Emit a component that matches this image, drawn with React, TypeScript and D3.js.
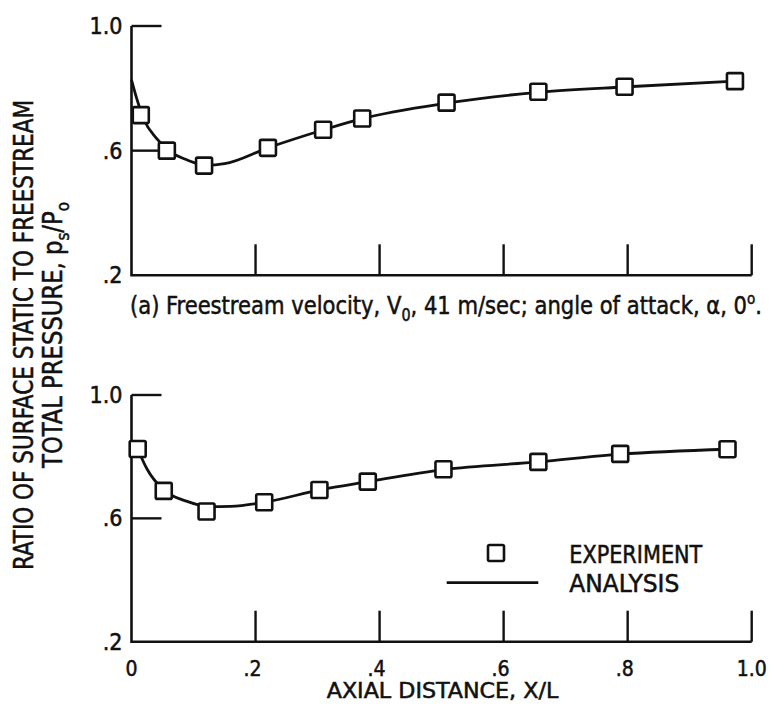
import React from "react";
import * as d3 from "d3";

const xTicks = [0, 0.2, 0.4, 0.6, 0.8, 1.0];
const xTickLabels = ["0", ".2", ".4", ".6", ".8", "1.0"];
const yTicks = [0.2, 0.6, 1.0];
const yTickLabels = [".2", ".6", "1.0"];

// Panel (a): experiment and analysis
const topExpX = [0.015, 0.057, 0.117, 0.22, 0.309, 0.372, 0.508, 0.656, 0.795, 0.973];
const topExpY = [0.714, 0.6, 0.552, 0.609, 0.667, 0.703, 0.754, 0.789, 0.805, 0.823];
const topAnaX = [0, 0.008, 0.02, 0.04, 0.06, 0.09, 0.12, 0.15, 0.22, 0.31, 0.37, 0.51, 0.66, 0.8, 0.973];
const topAnaY = [0.827, 0.77, 0.7, 0.64, 0.6, 0.57, 0.553, 0.558, 0.609, 0.667, 0.702, 0.753, 0.788, 0.805, 0.823];

// Panel (b)
const botExpX = [0.01, 0.052, 0.121, 0.214, 0.303, 0.381, 0.503, 0.656, 0.788, 0.961];
const botExpY = [0.825, 0.689, 0.622, 0.652, 0.692, 0.719, 0.759, 0.783, 0.809, 0.824];
const botAnaX = [0.01, 0.025, 0.052, 0.09, 0.125, 0.16, 0.214, 0.303, 0.381, 0.503, 0.656, 0.788, 0.961];
const botAnaY = [0.825, 0.76, 0.692, 0.655, 0.638, 0.639, 0.652, 0.692, 0.719, 0.758, 0.783, 0.808, 0.824];

const FONT = "'DejaVu Sans Condensed', 'Liberation Sans Narrow', 'DejaVu Sans', sans-serif";
const INK = "#111";

const x = d3.scaleLinear().domain([0, 1]).range([131.5, 751.7]);

function Panel({ y0, y1, expX, expY, anaX, anaY }: any) {
  const y = d3.scaleLinear().domain([0.2, 1.0]).range([y0, y1]);
  const pts = anaX.map((v: number, i: number) => [v, anaY[i]] as [number, number]);
  const line = d3
    .line<[number, number]>()
    .x((d) => x(d[0]))
    .y((d) => y(d[1]))
    .curve(d3.curveMonotoneX);
  const xl = x(0);
  return (
    <g>
      <path
        d={`M${xl},${y(1.0)} L${xl},${y(0.2)} L${x(1)},${y(0.2)}`}
        fill="none"
        stroke={INK}
        strokeWidth={2.6}
      />
      {yTicks.filter((t) => t > 0.2).map((t) => (
        <line key={"yt" + t} x1={xl} x2={xl + 30} y1={y(t)} y2={y(t)} stroke={INK} strokeWidth={2.4} />
      ))}
      {xTicks.filter((t) => t > 0).map((t) => (
        <line key={"xt" + t} x1={x(t)} x2={x(t)} y1={y(0.2)} y2={y(0.2) - 31} stroke={INK} strokeWidth={2.4} />
      ))}
      {yTicks.map((t, i) => (
        <text
          key={"yl" + t}
          x={xl - 9}
          y={y(t) + 8}
          textAnchor="end"
          fontFamily={FONT}
          fontSize={23}
          fill={INK}
        >
          {yTickLabels[i]}
        </text>
      ))}
      <path d={line(pts) || ""} fill="none" stroke={INK} strokeWidth={2.8} />
      {expX.map((v: number, i: number) => (
        <rect
          key={"e" + i}
          x={x(v) - 8}
          y={y(expY[i]) - 8}
          width={16}
          height={16}
          rx={1.5}
          fill="#fff"
          stroke={INK}
          strokeWidth={2.6}
        />
      ))}
    </g>
  );
}

export default function App() {
  return (
    <div style={{ position: "absolute", left: 0, top: 0 }}>
      <svg width={775} height={719} style={{ display: "block", background: "#fff" }}>
        <style>{`text { stroke: ${INK}; stroke-width: 0.5px; }`}</style>
        <rect width={775} height={719} fill="#fff" />
        <Panel y0={275.3} y1={26} expX={topExpX} expY={topExpY} anaX={topAnaX} anaY={topAnaY} />
        <Panel y0={641.7} y1={395} expX={botExpX} expY={botExpY} anaX={botAnaX} anaY={botAnaY} />

        {xTicks.map((t, i) => (
          <text
            key={"xl" + t}
            x={x(t) - (i === 0 || i === xTicks.length - 1 ? 0 : 3)}
            y={676}
            textAnchor="middle"
            fontFamily={FONT}
            fontSize={21}
            fill={INK}
          >
            {xTickLabels[i]}
          </text>
        ))}
        <text
          x={326.7}
          y={698}
          textLength={231.6}
          lengthAdjust="spacingAndGlyphs"
          fontFamily={FONT}
          fontSize={21}
          fill={INK}
        >
          AXIAL DISTANCE, X/L
        </text>

        <text
          x={130}
          y={314}
          textLength={632}
          lengthAdjust="spacingAndGlyphs"
          fontFamily={FONT}
          fontSize={25}
          fill={INK}
        >
          (a) Freestream velocity, V
          <tspan dy={7} fontSize={17}>0</tspan>
          <tspan dy={-7}>, 41 m/sec; angle of attack, α, 0</tspan>
          <tspan dy={-10} fontSize={16}>o</tspan>
          <tspan dy={10}>.</tspan>
        </text>

        <text
          transform="translate(33,335) rotate(-90)"
          textAnchor="middle"
          textLength={470}
          lengthAdjust="spacingAndGlyphs"
          fontFamily={FONT}
          fontSize={27}
          fill={INK}
        >
          RATIO OF SURFACE STATIC TO FREESTREAM
        </text>
        <text
          transform="translate(62,335) rotate(-90)"
          textAnchor="middle"
          textLength={266}
          lengthAdjust="spacingAndGlyphs"
          fontFamily={FONT}
          fontSize={27}
          fill={INK}
        >
          TOTAL PRESSURE, p
          <tspan dy={7} fontSize={18}>s</tspan>
          <tspan dy={-7}>/P</tspan>
          <tspan dy={7} fontSize={18}>o</tspan>
        </text>

        <rect x={488} y={545} width={16} height={16} rx={1.5} fill="#fff" stroke={INK} strokeWidth={2.6} />
        <line x1={446.7} x2={538.3} y1={582.7} y2={582.7} stroke={INK} strokeWidth={2.8} />
        <text x={569.3} y={562.7} textLength={133} lengthAdjust="spacingAndGlyphs" fontFamily={FONT} fontSize={25} fill={INK}>
          EXPERIMENT
        </text>
        <text x={569.3} y={592.3} textLength={110} lengthAdjust="spacingAndGlyphs" fontFamily={FONT} fontSize={25} fill={INK}>
          ANALYSIS
        </text>
      </svg>
    </div>
  );
}
